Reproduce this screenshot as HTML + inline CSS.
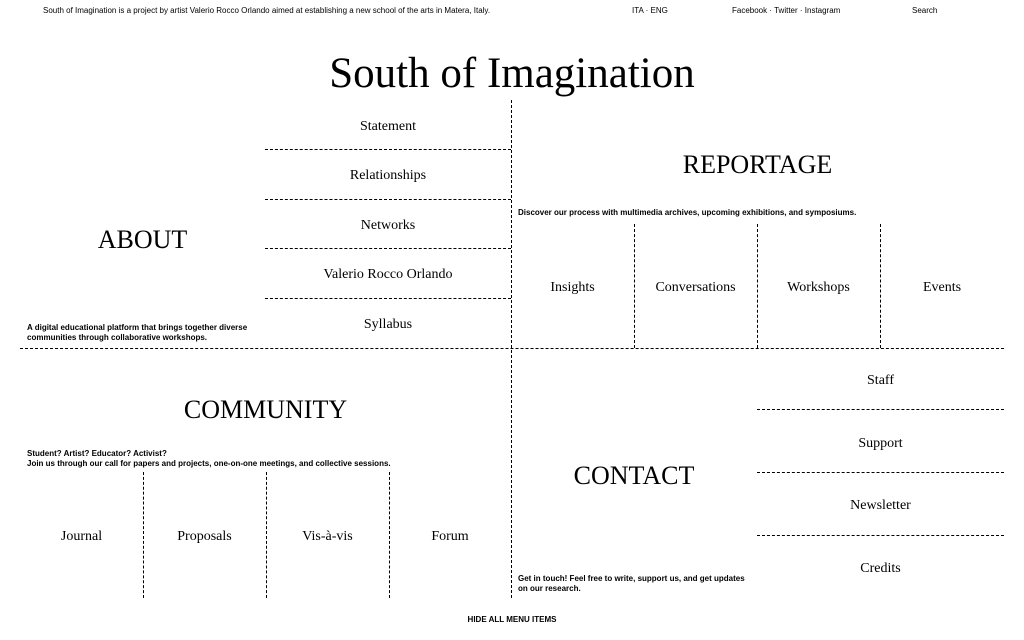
<!DOCTYPE html>
<html><head><meta charset="utf-8"><style>
html,body{margin:0;padding:0;background:#fff;width:1024px;height:640px;overflow:hidden;position:relative;color:#000}
.s{position:absolute;font-family:"Liberation Sans",sans-serif;font-size:8px;font-weight:bold;line-height:10px;white-space:nowrap}
.r{position:absolute;font-family:"Liberation Serif",serif;white-space:nowrap;text-align:center}
.l{font-size:14px;margin-top:2px}
.h{font-size:26px;margin-top:2px}
.hl{position:absolute;border-top:1px dashed #000;height:0}
.vl{position:absolute;border-left:1px dashed #000;width:0}
.t{font-weight:500 !important}
</style></head><body>
<div class="s t" style="left:43px;top:6px">South of Imagination is a project by artist Valerio Rocco Orlando aimed at establishing a new school of the arts in Matera, Italy.</div>
<div class="s t" style="left:632px;top:6px">ITA · ENG</div>
<div class="s t" style="left:732px;top:6px">Facebook · Twitter · Instagram</div>
<div class="s t" style="left:912px;top:6px">Search</div>
<div class="r" style="left:0;width:1024px;top:48px;font-size:43px;line-height:52px">South of Imagination</div>

<div class="vl" style="left:511px;top:100px;height:498px"></div>
<div class="hl" style="left:20px;top:348px;width:984px"></div>
<div class="hl" style="left:265px;top:149px;width:246px"></div>
<div class="hl" style="left:265px;top:199px;width:246px"></div>
<div class="hl" style="left:265px;top:248px;width:246px"></div>
<div class="hl" style="left:265px;top:298px;width:246px"></div>
<div class="vl" style="left:634px;top:224px;height:124px"></div>
<div class="vl" style="left:757px;top:224px;height:124px"></div>
<div class="vl" style="left:880px;top:224px;height:124px"></div>
<div class="vl" style="left:143px;top:472px;height:126px"></div>
<div class="vl" style="left:266px;top:472px;height:126px"></div>
<div class="vl" style="left:389px;top:472px;height:126px"></div>
<div class="hl" style="left:757px;top:409px;width:247px"></div>
<div class="hl" style="left:757px;top:472px;width:247px"></div>
<div class="hl" style="left:757px;top:535px;width:247px"></div>

<div class="r l" style="left:265px;width:246px;top:117px">Statement</div>
<div class="r l" style="left:265px;width:246px;top:166px">Relationships</div>
<div class="r l" style="left:265px;width:246px;top:216px">Networks</div>
<div class="r l" style="left:265px;width:246px;top:265px">Valerio Rocco Orlando</div>
<div class="r l" style="left:265px;width:246px;top:315px">Syllabus</div>
<div class="r h" style="left:20px;width:245px;top:223px">ABOUT</div>
<div class="s" style="left:27px;top:323px">A digital educational platform that brings together diverse<br>communities through collaborative workshops.</div>

<div class="r h" style="left:511px;width:493px;top:148px">REPORTAGE</div>
<div class="s" style="left:518px;top:208px">Discover our process with multimedia archives, upcoming exhibitions, and symposiums.</div>
<div class="r l" style="left:511px;width:123px;top:278px">Insights</div>
<div class="r l" style="left:634px;width:123px;top:278px">Conversations</div>
<div class="r l" style="left:757px;width:123px;top:278px">Workshops</div>
<div class="r l" style="left:880px;width:124px;top:278px">Events</div>

<div class="r h" style="left:20px;width:491px;top:393px">COMMUNITY</div>
<div class="s" style="left:27px;top:449px">Student? Artist? Educator? Activist?<br>Join us through our call for papers and projects, one-on-one meetings, and collective sessions.</div>
<div class="r l" style="left:20px;width:123px;top:527px">Journal</div>
<div class="r l" style="left:143px;width:123px;top:527px">Proposals</div>
<div class="r l" style="left:266px;width:123px;top:527px">Vis-à-vis</div>
<div class="r l" style="left:389px;width:122px;top:527px">Forum</div>

<div class="r h" style="left:511px;width:246px;top:459px">CONTACT</div>
<div class="s" style="left:518px;top:574px">Get in touch! Feel free to write, support us, and get updates<br>on our research.</div>
<div class="r l" style="left:757px;width:247px;top:371px">Staff</div>
<div class="r l" style="left:757px;width:247px;top:434px">Support</div>
<div class="r l" style="left:757px;width:247px;top:496px">Newsletter</div>
<div class="r l" style="left:757px;width:247px;top:559px">Credits</div>

<div class="s" style="left:0;width:1024px;text-align:center;top:615px">HIDE ALL MENU ITEMS</div>
</body></html>
